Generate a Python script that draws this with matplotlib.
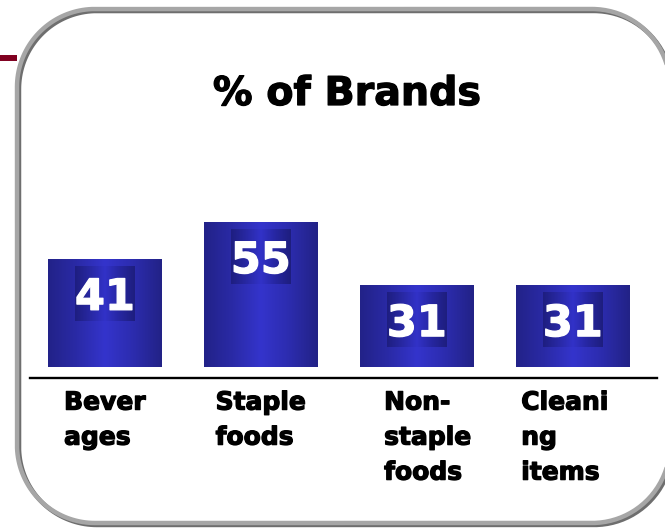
import numpy as np
import matplotlib
matplotlib.use('Agg')
import matplotlib.pyplot as plt
import matplotlib.patheffects as pe
from matplotlib.colors import LinearSegmentedColormap
from matplotlib.patches import Rectangle

# Chart data
categories = ["Bever\nages", "Staple\nfoods", "Non-\nstaple\nfoods", "Cleani\nng\nitems"]
values = [41, 55, 31, 31]
title = "% of Brands"

# small horizontal nudges for the category text blocks (axis units)
label_shift = [0.0, 0.0, 0.07, -0.05]

W, H = 665, 528
bar_cmap = LinearSegmentedColormap.from_list(
    "bar", ["#222288", "#2a2aa6", "#3434cc", "#2c2cae", "#222286"])
box_cmap = LinearSegmentedColormap.from_list(
    "box", ["#1e1e80", "#2828a2", "#3232c8", "#2626a0", "#1e1e7e"])
grad = np.linspace(0, 1, 256).reshape(1, -1)


def heavy(color):
    # thicken glyphs a bit, the original uses a very heavy bold face
    return [pe.Stroke(linewidth=0.9, foreground=color), pe.Normal()]


def arc(cx, cy, r, t0, t1, n=40):
    t = np.linspace(t0, t1, n)
    return cx + r * np.cos(t), cy + r * np.sin(t)


def frame_outline(left, top, right, bottom, r, xmax):
    """Open rounded-rect outline (pixel coords, y down), cut where it leaves the canvas."""
    cxr = right - r
    tr = np.arccos(min(1.0, (xmax - cxr) / r))
    parts = [
        arc(cxr, top + r, r, -tr, -np.pi / 2),
        arc(left + r, top + r, r, -np.pi / 2, -np.pi),
        arc(left + r, bottom - r, r, np.pi, np.pi / 2),
        arc(cxr, bottom - r, r, np.pi / 2, tr),
    ]
    xs = np.concatenate([p[0] for p in parts])
    ys = np.concatenate([p[1] for p in parts])
    return xs, ys


fig = plt.figure(figsize=(W / 100, H / 100), dpi=100)
fig.patch.set_facecolor("white")

# Background frame in pixel coordinates
bg = fig.add_axes([0, 0, 1, 1])
bg.set_xlim(0, W)
bg.set_ylim(H, 0)
bg.axis("off")
bg.plot([0, 17], [58, 58], color="#800020", lw=4.3, solid_capstyle="butt", zorder=1)
fx, fy = frame_outline(17, 9, 670, 523, 78, W + 3)
bg.plot(fx + 2, fy + 2, color="#6e6e6e", lw=3.2, zorder=2, solid_joinstyle="round")
bg.plot(fx, fy, color="#a6a6a6", lw=3.2, zorder=3, solid_joinstyle="round")
bg.text(347, 105, title, ha="center", va="baseline", fontsize=28.5,
        fontweight="bold", color="black", zorder=4, path_effects=heavy("black"))

# Bar chart
ax = fig.add_axes([30 / W, 150 / H, 627 / W, 168.8 / H])
ax.set_facecolor("none")
x = np.arange(len(values))
bw = 0.73
bars = ax.bar(x, values, width=bw, color="#2c2cae", zorder=2)
for b in bars:
    x0, y0 = b.get_x(), b.get_y()
    im = ax.imshow(grad, cmap=bar_cmap, aspect="auto", zorder=3,
                   extent=[x0, x0 + b.get_width(), y0, y0 + b.get_height()])
    im.set_clip_path(b)

for xi, v in zip(x, values):
    cy = v - 13
    bx, by = 0.19, 10.4
    box = Rectangle((xi - bx, cy - by), 2 * bx, 2 * by, fc="none", ec="none")
    ax.add_patch(box)
    im = ax.imshow(grad, cmap=box_cmap, aspect="auto", zorder=4,
                   extent=[xi - bx, xi + bx, cy - by, cy + by])
    im.set_clip_path(box)
    ax.text(xi, cy, str(v), ha="center", va="center_baseline", color="white",
            fontsize=31, fontweight="bold", zorder=5, path_effects=heavy("white"))

ax.set_xlim(-0.48, 3.54)
ax.set_ylim(-4.2, 60)
for s in ["top", "right", "left"]:
    ax.spines[s].set_visible(False)
ax.spines["bottom"].set_linewidth(1.7)
ax.spines["bottom"].set_color("black")
ax.set_yticks([])
ax.set_xticks([])

for xi, lab, dx in zip(x, categories, label_shift):
    ax.text(xi + dx, -9.0, lab, ha="center", va="top", multialignment="left",
            fontsize=18, fontweight="bold", color="black", linespacing=1.58,
            path_effects=heavy("black"))

fig.savefig("out.png", dpi=100)
